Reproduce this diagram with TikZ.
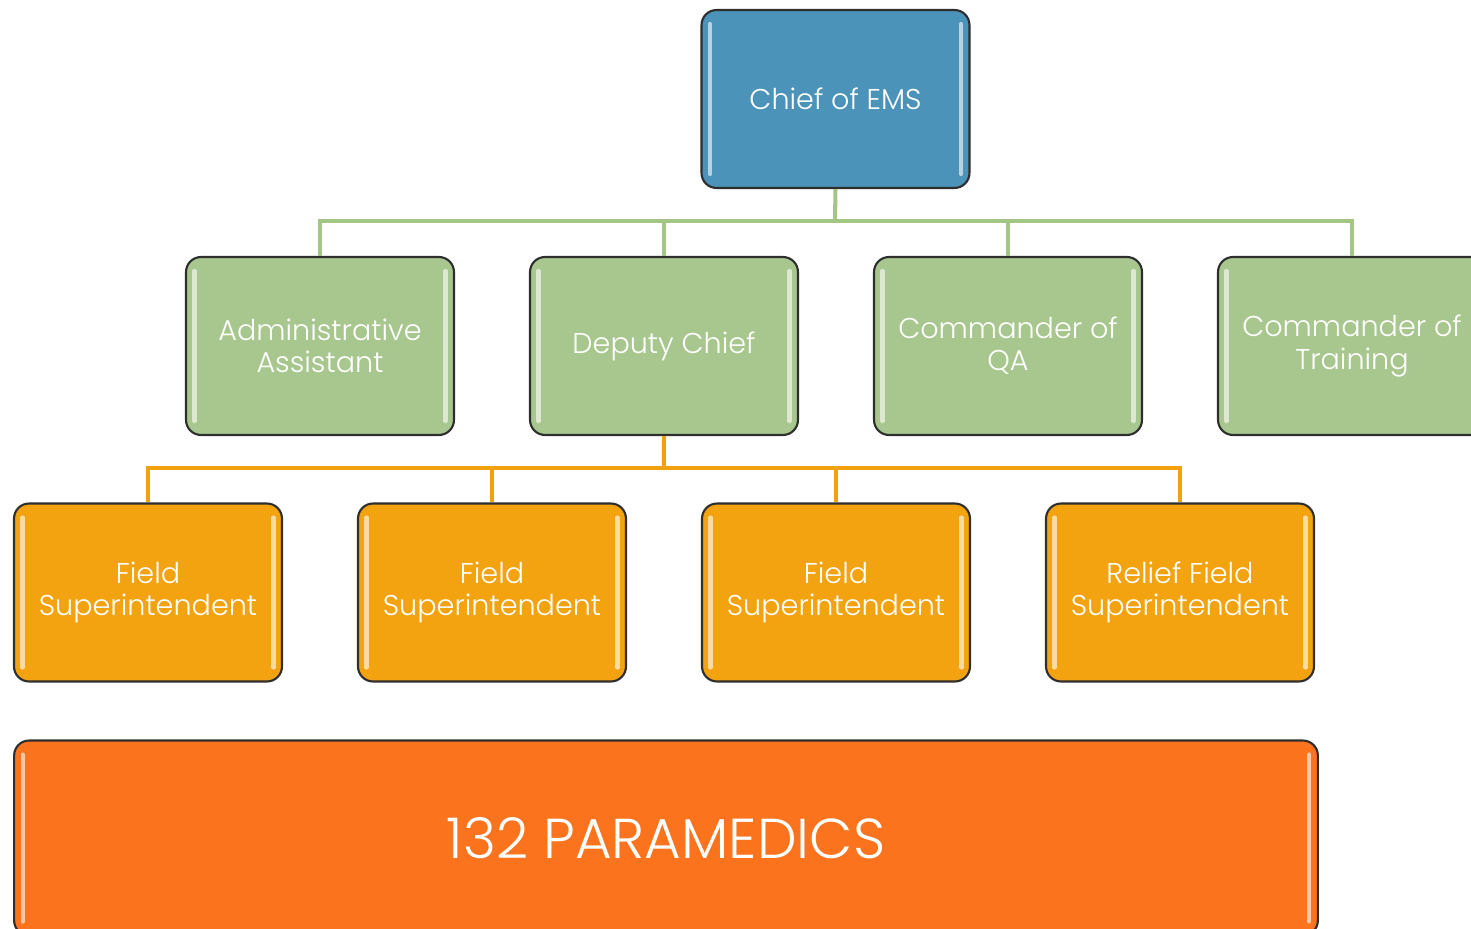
\documentclass[tikz,border=0pt]{standalone}
\usepackage{fontspec}
\setmainfont{Poppins}[UprightFont=* Light]
\definecolor{cblue}{HTML}{4C93BA}
\definecolor{cgreen}{HTML}{A8C78E}
\definecolor{corange}{HTML}{F2A30F}
\definecolor{cbig}{HTML}{FB731C}
\definecolor{cedge}{HTML}{2E2E2E}
\definecolor{glinec}{HTML}{A3C585}
\definecolor{olinec}{HTML}{F0A10E}
\begin{document}
\begin{tikzpicture}[x=0.02cm,y=-0.02cm,
  boxbase/.style={draw=cedge, line width=1.2pt, rounded corners=0.3cm, text=white,
    align=center, inner sep=0pt, font=\fontsize{16.3}{18.3}\selectfont,
    minimum width=5.36cm, minimum height=3.56cm,
    path picture={
      \draw[line width=2.4pt, white, opacity=0.6, line cap=round]
        ([xshift=0.17cm,yshift=-0.28cm]path picture bounding box.north west) --
        ([xshift=0.17cm,yshift=0.28cm]path picture bounding box.south west);
      \draw[line width=2.4pt, white, opacity=0.6, line cap=round]
        ([xshift=-0.17cm,yshift=-0.28cm]path picture bounding box.north east) --
        ([xshift=-0.17cm,yshift=0.28cm]path picture bounding box.south east);
    }},
  bluebox/.style={boxbase, fill=cblue},
  greenbox/.style={boxbase, fill=cgreen},
  orangebox/.style={boxbase, fill=corange},
  bigbox/.style={boxbase, fill=cbig, minimum width=26.08cm, minimum height=3.9cm,
    font=\fontsize{32}{36}\selectfont},
  gline/.style={draw=glinec, line width=2.3pt},
  oline/.style={draw=olinec, line width=2.3pt}
]
\useasboundingbox (0,0) rectangle (1471,929);
\clip (0,0) rectangle (1471,929);
\coordinate (gbus) at (835,221);
\coordinate (obus) at (664,468);

\node[bluebox] (chief) at (835.5,99) {Chief of EMS};

\node[greenbox] (admin) at (320,346) {Administrative\\Assistant};
\node[greenbox] (deputy) at (664,346) {Deputy Chief};
\node[greenbox] (qa) at (1008,346) {Commander of\\QA};
\node[greenbox] (train) at (1352,346) {Commander of\\Training};

\node[orangebox] (fs1) at (148,592.5) {Field\\Superintendent};
\node[orangebox] (fs2) at (492,592.5) {Field\\Superintendent};
\node[orangebox] (fs3) at (836,592.5) {Field\\Superintendent};
\node[orangebox] (rfs) at (1180,592.5) {Relief Field\\Superintendent};

\node[bigbox] (para) at (666,838) {132 PARAMEDICS};

\draw[gline] (chief.south) -- (gbus);
\draw[gline] (admin.north) -- (admin.north |- gbus) -- (train.north |- gbus) -- (train.north);
\draw[gline] (deputy.north) -- (deputy.north |- gbus);
\draw[gline] (qa.north) -- (qa.north |- gbus);

\draw[oline] (deputy.south) -- (obus);
\draw[oline] (fs1.north) -- (fs1.north |- obus) -- (rfs.north |- obus) -- (rfs.north);
\draw[oline] (fs2.north) -- (fs2.north |- obus);
\draw[oline] (fs3.north) -- (fs3.north |- obus);
\end{tikzpicture}
\end{document}
